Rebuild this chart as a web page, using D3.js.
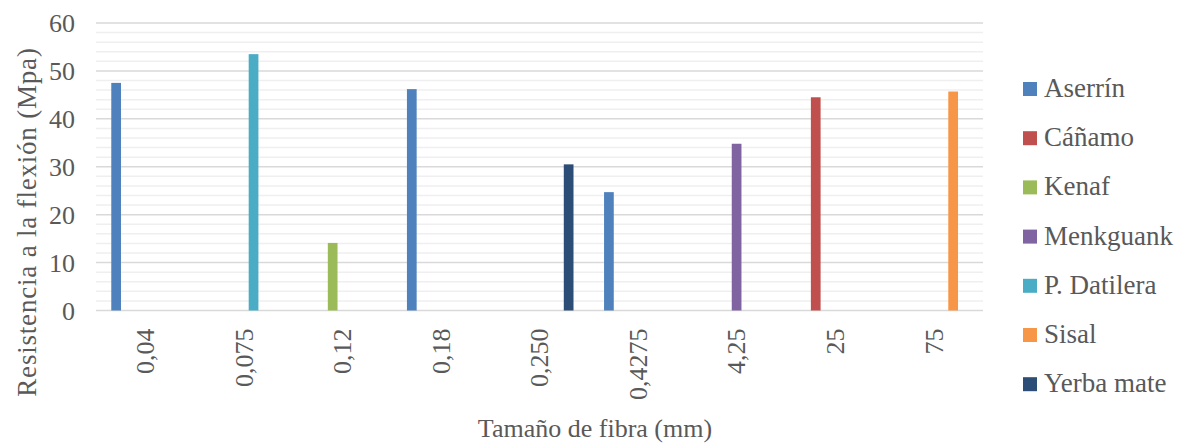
<!DOCTYPE html>
<html>
<head>
<meta charset="utf-8">
<script src="https://cdn.jsdelivr.net/npm/d3@7"></script>
<style>
  html, body { margin: 0; padding: 0; background: #fff; }
  svg { display: block; }
  svg text { font-family: "Liberation Serif", "DejaVu Serif", serif; fill: #595959; }
</style>
</head>
<body>
<svg id="chart" width="1181" height="446"></svg>
<script>
// Fibre sizes (mm) along the category axis
const categories = ["0,04", "0,075", "0,12", "0,18", "0,250", "0,4275", "4,25", "25", "75"];

// Series names (legend order) and their colours
const seriesNames = ["Aserrín", "Cáñamo", "Kenaf", "Menkguank", "P. Datilera", "Sisal", "Yerba mate"];
const seriesColors = ["#4F81BD", "#C0504D", "#9BBB59", "#8064A2", "#4BACC6", "#F79646", "#2C4D75"];

// Flexural strength (MPa) per fibre size; null where a fibre was not tested
const aserrin   = [47.5, null, null, 46.2, null, 24.7, null, null, null];
const canamo    = [null, null, null, null, null, null, null, 44.5, null];
const kenaf     = [null, null, 14.1, null, null, null, null, null, null];
const menkguank = [null, null, null, null, null, null, 34.8, null, null];
const datilera  = [null, 53.5, null, null, null, null, null, null, null];
const sisal     = [null, null, null, null, null, null, null, null, 45.7];
const yerbaMate = [null, null, null, null, 30.5, null, null, null, null];

const seriesValues = [aserrin, canamo, kenaf, menkguank, datilera, sisal, yerbaMate];

// Value-axis ticks
const yTicks = [0, 10, 20, 30, 40, 50, 60];

const svg = d3.select("#chart");
const plot = { left: 96, right: 983, top: 23, bottom: 310.5 };

const y = d3.scaleLinear().domain([0, 60]).range([plot.bottom, plot.top]);
const x0 = d3.scaleBand().domain(categories).range([plot.left, plot.right])
  .paddingInner(0.31).paddingOuter(0.155);
const x1 = d3.scaleBand().domain(seriesNames).range([0, x0.bandwidth()]).padding(0);
const color = d3.scaleOrdinal().domain(seriesNames).range(seriesColors);

// Minor gridlines every 2 MPa
svg.append("g").selectAll("line")
  .data(d3.range(2, 60, 2).filter(v => v % 10 !== 0))
  .join("line")
  .attr("x1", plot.left).attr("x2", plot.right)
  .attr("y1", d => y(d)).attr("y2", d => y(d))
  .attr("stroke", "#efefef").attr("stroke-width", 1.5);

// Major gridlines every 10 MPa
svg.append("g").selectAll("line")
  .data(yTicks)
  .join("line")
  .attr("x1", plot.left).attr("x2", plot.right)
  .attr("y1", d => y(d)).attr("y2", d => y(d))
  .attr("stroke", "#d9d9d9").attr("stroke-width", 1.5);

// Bars
const flat = [];
seriesNames.forEach((name, si) => {
  seriesValues[si].forEach((v, ci) => {
    if (v != null) flat.push({ name, cat: categories[ci], value: v });
  });
});

svg.append("g").selectAll("rect")
  .data(flat)
  .join("rect")
  .attr("x", d => x0(d.cat) + x1(d.name))
  .attr("y", d => y(d.value))
  .attr("width", x1.bandwidth())
  .attr("height", d => y(0) - y(d.value))
  .attr("fill", d => color(d.name));

// Y axis (labels only)
const yAxis = d3.axisLeft(y).tickValues(yTicks).tickSize(0).tickPadding(0).tickFormat(d3.format("d"));
const gy = svg.append("g").attr("transform", "translate(75,0)").call(yAxis)
  .attr("font-family", null).attr("font-size", null);
gy.select(".domain").remove();
gy.selectAll("text")
  .style("font-size", "26px")
  .attr("dy", "0.34em");

// X axis (rotated labels)
const xAxis = d3.axisBottom(x0).tickSize(0).tickPadding(0);
const gx = svg.append("g").attr("transform", `translate(0,${plot.bottom})`).call(xAxis)
  .attr("font-family", null).attr("font-size", null);
gx.select(".domain").remove();
gx.selectAll("text")
  .style("font-size", "26px")
  .attr("text-anchor", "end")
  .attr("transform", "rotate(-90)")
  .attr("x", -18)
  .attr("y", 0)
  .attr("dy", "0.34em");

// Axis titles
svg.append("text")
  .attr("transform", "translate(36,222) rotate(-90)")
  .attr("text-anchor", "middle")
  .style("font-size", "27px")
  .style("letter-spacing", "0.8px")
  .text("Resistencia a la flexión (Mpa)");

svg.append("text")
  .attr("x", 595).attr("y", 437)
  .attr("text-anchor", "middle")
  .style("font-size", "26px")
  .text("Tamaño de fibra (mm)");

// Legend
const legend = svg.append("g").selectAll("g")
  .data(seriesNames)
  .join("g")
  .attr("transform", (d, i) => `translate(1023,${82 + i * 49.2})`);

legend.append("rect")
  .attr("width", 14).attr("height", 14)
  .attr("fill", d => color(d));

legend.append("text")
  .attr("x", 21).attr("y", 15)
  .style("font-size", "27px")
  .text(d => d);
</script>
</body>
</html>
